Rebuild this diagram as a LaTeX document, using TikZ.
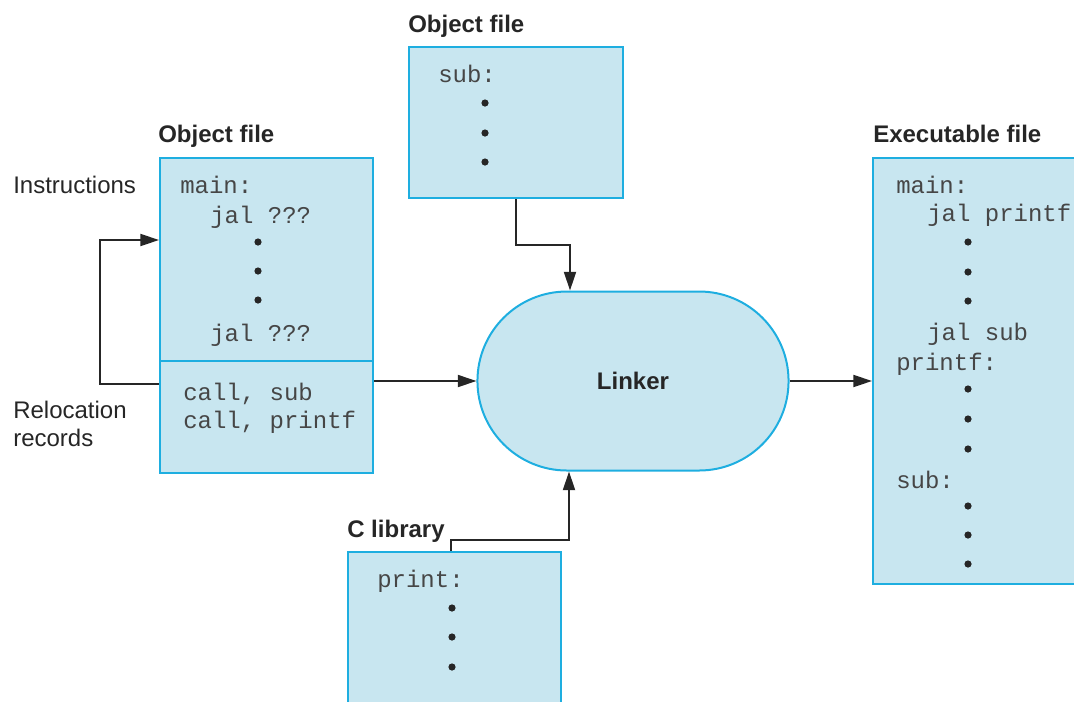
\documentclass[tikz,border=0pt]{standalone}
\usepackage{fontspec}
\setmainfont{Liberation Sans}
\setmonofont{Liberation Mono}
\usetikzlibrary{arrows.meta,shapes.misc,fit}
\definecolor{boxfill}{RGB}{200,230,240}
\definecolor{boxline}{RGB}{30,174,224}
\definecolor{codegray}{RGB}{70,70,70}
\tikzset{
	filebox/.style={draw=boxline,fill=boxfill,line width=1.5pt,inner sep=0pt},
	title/.style={font=\fontsize{18}{22}\selectfont\bfseries,text=black!85,anchor=base west,inner sep=0pt},
	side/.style={font=\fontsize{18}{22}\selectfont,text=black!85,anchor=base west,inner sep=0pt},
	code/.style={font=\fontsize{18}{22}\selectfont\ttfamily,text=codegray,anchor=base west,inner sep=0pt},
	link/.style={line width=1.5pt,black!85,-{Triangle[length=14pt,width=9pt]}},
	dot/.style={fill=black!85}
}
\begin{document}
\begin{tikzpicture}[x=0.75pt,y=-0.75pt]
			\useasboundingbox (0,0) rectangle (1074,701);
			\clip (0,0) rectangle (1074,701);
			% boxes
			\node[filebox,fit={(160,158) (373,473)}] (objbox) {};
			\draw[boxline,line width=1.5pt] (objbox.west |- 0,361) -- (objbox.east |- 0,361);
			\node[filebox,fit={(409,47) (623,198)}] (subbox) {};
			\node[filebox,fit={(348,552) (561,715)}] (clibbox) {};
			\node[filebox,fit={(873,158) (1090,584)}] (exebox) {};
			\node[draw=boxline,fill=boxfill,line width=1.5pt,rounded rectangle,minimum width=240pt,minimum height=134.25pt,
				font=\fontsize{18}{22}\selectfont\bfseries,text=black!85] (linker) at (633,381) {Linker};
			% titles
			\node[title] (objtitle) at (158,142) {Object file};
			\node[title] (subtitle) at (408,32) {Object file};
			\node[title] (exetitle) at (873,142) {Executable file};
			\node[title] (clibtitle) at (347,537) {C library};
			\node[side] (instr) at (13,193) {Instructions};
			\node[side] (reloc1) at (13,418) {Relocation};
			\node[side] (reloc2) at (13,446) {records};
			% code
			\node[code] (objmain) at (180,193) {main:};
			\node[code] (objjal1) at (210,223) {jal ???};
			\node[code] (objjal2) at (210,341) {jal ???};
			\node[code] (objcall1) at (183,400) {call, sub};
			\node[code] (objcall2) at (183,428) {call, printf};
			\node[code] (sublbl) at (438,82) {sub:};
			\node[code] (cliblbl) at (377,587) {print:};
			\node[code] (exemain) at (896,193) {main:};
			\node[code] (exejal1) at (927,221) {jal printf};
			\node[code] (exejal2) at (927,340) {jal sub};
			\node[code] (exeprintf) at (896,370) {printf:};
			\node[code] (exesub) at (896,488) {sub:};
			\foreach \y in {242,271,300} \fill[dot] (258,\y) circle (2.7pt);
			\foreach \y in {103,133,162} \fill[dot] (485,\y) circle (2.7pt);
			\foreach \y in {608,637,667} \fill[dot] (452,\y) circle (2.7pt);
			\foreach \y in {242,272,301,389,419,449,506,535,564} \fill[dot] (968,\y) circle (2.7pt);
			% connectors
			\draw[link] (subbox.south) |- (570,245) -- (570,0 |- linker.north);
			\draw[link] (451,0 |- clibbox.north) |- (569,540) -- (569,0 |- linker.south);
			\draw[link] (objbox.east |- linker.west) -- (linker.west);
			\draw[link] (linker.east) -- (exebox.west |- linker.east);
			\draw[link] (objbox.west |- 0,384) -| (100,240) -- (objbox.west |- 0,240);
\end{tikzpicture}
\end{document}
